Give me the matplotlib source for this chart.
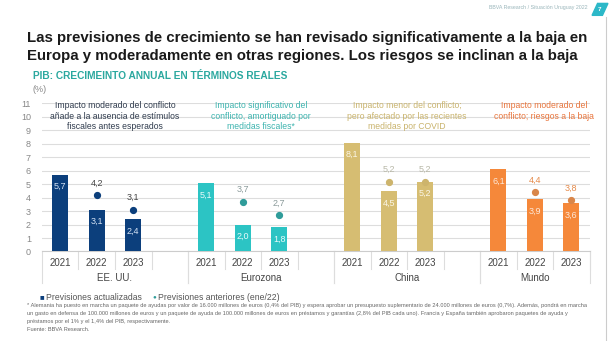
import matplotlib
matplotlib.use("Agg")
import matplotlib.pyplot as plt
from matplotlib.patches import Polygon
import numpy as np

plt.rcParams['font.family'] = ['Liberation Sans', 'DejaVu Sans']

# datos
regiones = ["EE. UU.", "Eurozona", "China", "Mundo"]
anios = ["2021", "2022", "2023"]
actualizadas = [[5.7, 3.1, 2.4], [5.1, 2.0, 1.8], [8.1, 4.5, 5.2], [6.1, 3.9, 3.6]]
anteriores = [[None, 4.2, 3.1], [None, 3.7, 2.7], [None, 5.2, 5.2], [None, 4.4, 3.8]]
notas = [
    "Impacto moderado del conflicto\nañade a la ausencia de estímulos\nfiscales antes esperados",
    "Impacto significativo del\nconflicto, amortiguado por\nmedidas fiscales*",
    "Impacto menor del conflicto;\npero afectado por las recientes\nmedidas por COVID",
    "Impacto moderado del\nconflicto; riesgos a la baja",
]
yticks = list(range(0, 12))

col_barra = ["#0c3f7c", "#2cc4c4", "#d6bd72", "#f5883a"]
col_punto = ["#0c3f7c", "#2f9c9a", "#cdb46c", "#d9864a"]
col_etq_barra = ["#d5e3f5", "#e8fbfb", "#fbf6e6", "#fde8d8"]
col_etq_punto = ["#444444", "#8a9a9a", "#b8b8a8", "#e58a4a"]
col_nota = ["#2e3a4c", "#3bb3ae", "#c9b36c", "#e8743b"]

fig = plt.figure(figsize=(6.11, 3.41), dpi=100)
fig.patch.set_facecolor("white")
ax = fig.add_axes([0.0687, 0.2625, 0.8963, 0.434])

pasos = 4
for g in range(len(regiones)):
    xs = np.arange(len(anios)) + g * pasos
    ax.bar(xs, actualizadas[g], width=0.44, color=col_barra[g], zorder=3)
    for x, v in zip(xs, actualizadas[g]):
        ax.annotate(f"{v:.1f}".replace(".", ","), (x, v), xytext=(0, -12),
                    textcoords="offset pixels",
                    ha="center", va="center", fontsize=6.5, color=col_etq_barra[g], zorder=4)
    for x, v in zip(xs, anteriores[g]):
        if v is None:
            continue
        ax.plot(x, v, "o", ms=4.2, color=col_punto[g], zorder=5)
        ax.annotate(f"{v:.1f}".replace(".", ","), (x, v), xytext=(0, 12),
                    textcoords="offset pixels", ha="center", va="center",
                    fontsize=6.5, color=col_etq_punto[g], zorder=5)

ax.set_xlim(-0.5, (len(regiones) - 1) * pasos + len(anios) - 0.5)
ax.set_ylim(0, 11)
ax.set_yticks(yticks)
ax.set_yticklabels([str(t) for t in yticks], fontsize=6.5, color="#888888")
ax.tick_params(axis="y", length=0, pad=8)
ax.set_xticks([])
ax.grid(axis="y", color="#dddddd", lw=0.8, zorder=0)
for s in ["top", "right", "left"]:
    ax.spines[s].set_visible(False)
ax.spines["bottom"].set_color("#cccccc")
ax.spines["bottom"].set_linewidth(0.8)

# eje de categorias en dos niveles
trans = ax.get_xaxis_transform()
for g, reg in enumerate(regiones):
    xs = np.arange(len(anios)) + g * pasos
    izq = xs[0] - 0.5
    der = xs[-1] + 0.5 if g == len(regiones) - 1 else xs[-1] + pasos - len(anios) + 0.5
    for x, a in zip(xs, anios):
        ax.text(x, -0.075, a, transform=trans, ha="center", va="center",
                fontsize=7, color="#444444")
    for x in xs[:-1] + 0.5:
        ax.plot([x, x], [0, -0.12], transform=trans, color="#dddddd", lw=0.8, clip_on=False)
    ax.plot([xs[-1] + 0.5] * 2, [0, -0.12], transform=trans, color="#dddddd", lw=0.8, clip_on=False)
    for x in (izq, der):
        ax.plot([x, x], [0, -0.21], transform=trans, color="#dddddd", lw=0.8, clip_on=False)
    cx = (izq + der) / 2
    ax.text(cx, -0.178, reg, transform=trans, ha="center", va="center",
            fontsize=7, color="#444444")
    nx = cx + (0.25 if g == len(regiones) - 1 else 0)
    ax.text(nx, 11.15, notas[g], ha="center", va="top", fontsize=6.2,
            color=col_nota[g], linespacing=1.15, zorder=6)

# titulos
fig.text(0.044, 0.862, "Las previsiones de crecimiento se han revisado significativamente a la baja en\n"
         "Europa y moderadamente en otras regiones. Los riesgos se inclinan a la baja",
         ha="left", va="center", fontsize=10.8, fontweight="bold", color="#1a1a1a", linespacing=1.4)
fig.text(0.054, 0.777, "PIB: CRECIMEINTO ANNUAL EN TÉRMINOS REALES", ha="left", va="center",
         fontsize=7.3, fontweight="bold", color="#2ba89f")
fig.text(0.054, 0.739, "(%)", ha="left", va="center", fontsize=6.5, color="#888888")

# cabecera
fig.text(0.962, 0.985, "BBVA Research / Situación Uruguay 2022", ha="right", va="top",
         fontsize=3.8, color="#9ab6bb")
fig.patches.append(Polygon([[0.969, 0.955], [0.978, 0.99], [0.995, 0.99], [0.986, 0.955]],
                           closed=True, transform=fig.transFigure, color="#2cb8c8"))
fig.text(0.9815, 0.972, "7", ha="center", va="center", fontsize=4.5, color="white", fontweight="bold")
fig.add_artist(plt.Line2D([0.992, 0.992], [0.0, 0.95], transform=fig.transFigure,
                          color="#cccccc", lw=0.8))

# leyenda
fig.text(0.065, 0.128, "■", ha="left", va="center", fontsize=5.5, color=col_barra[0])
fig.text(0.075, 0.128, "Previsiones actualizadas", ha="left", va="center", fontsize=6.2, color="#555555")
fig.text(0.249, 0.128, "●", ha="left", va="center", fontsize=4.5, color=col_punto[1])
fig.text(0.259, 0.128, "Previsiones anteriores (ene/22)", ha="left", va="center", fontsize=6.2, color="#555555")

# nota
nota = ("* Alemania ha puesto en marcha un paquete de ayudas por valor de 16.000 millones de euros (0,4% del PIB) y espera aprobar un presupuesto suplementario de 24.000 millones de euros (0,7%). Además, pondrá en marcha\n"
        "un gasto en defensa de 100.000 millones de euros y un paquete de ayuda de 100.000 millones de euros en préstamos y garantías (2,8% del PIB cada uno). Francia y España también aprobaron paquetes de ayuda y\n"
        "préstamos por el 1% y el 1,4% del PIB, respectivamente.\n"
        "Fuente: BBVA Research.")
fig.text(0.044, 0.112, nota, ha="left", va="top", fontsize=4.1, color="#666666", linespacing=1.75)

fig.savefig("out.png", dpi=100)
